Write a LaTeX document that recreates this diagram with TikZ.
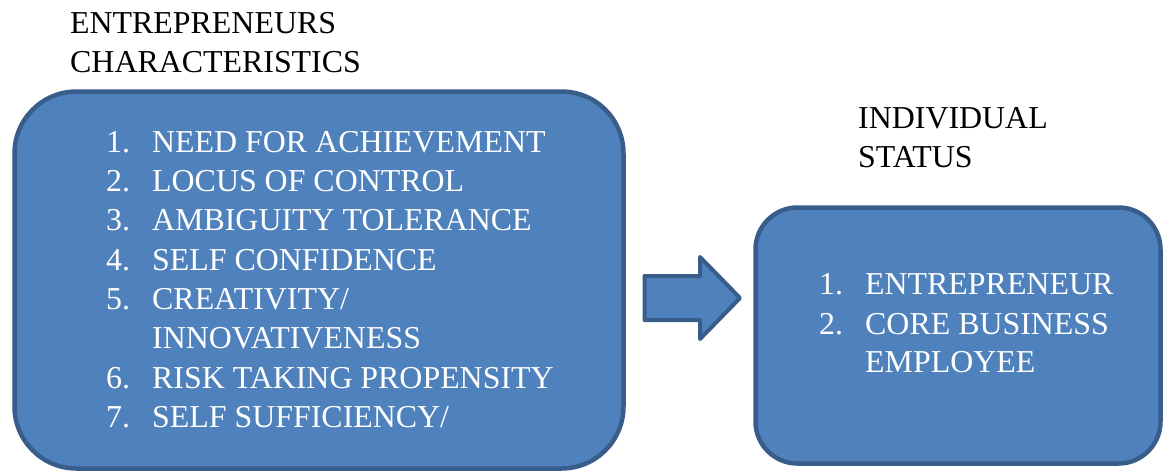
\documentclass[tikz,border=0pt]{standalone}
\usepackage{fontspec}
\setmainfont{Liberation Serif}
\definecolor{boxfill}{HTML}{4F81BD}
\definecolor{boxline}{HTML}{385D8A}
\begin{document}
\begin{tikzpicture}[x=1pt,y=-1pt,
  panel/.style={fill=boxfill,draw=boxline,line width=4.5pt},
  title/.style={anchor=base west,inner sep=0pt,font=\fontsize{31.9}{39}\selectfont,text=black},
  item/.style={anchor=base west,inner sep=0pt,font=\fontsize{31.9}{39}\selectfont,text=white}]
\useasboundingbox (0,0) rectangle (1163,472);
% boxes
\draw[panel,rounded corners=62pt] (14.5,91.5) rectangle (623.5,468.5);
\draw[panel,rounded corners=42pt] (755.5,207.5) rectangle (1160.5,463.5);
% arrow
\draw[panel,line width=4pt,line join=round] (644.5,276) -- (700,276) -- (700,257) -- (740,298) -- (700,339) -- (700,320) -- (644.5,320) -- cycle;
% titles
\node[title] (t1) at (70,33) {ENTREPRENEURS};
\node[title] (t2) at (70,72) {CHARACTERISTICS};
\node[title] (t3) at (858,128) {INDIVIDUAL};
\node[title] (t4) at (858,167) {STATUS};
% left list
\foreach \n/\y/\txt in {1/152/{NEED FOR ACHIEVEMENT},2/191/{LOCUS OF CONTROL},3/230/{AMBIGUITY TOLERANCE},4/270/{SELF CONFIDENCE},5/309/{CREATIVITY/},6/388/{RISK TAKING PROPENSITY},7/427/{SELF SUFFICIENCY/}}{
  \node[item] (ln\n) at (106,\y) {\n.};
  \node[item] (lt\n) at (152,\y) {\txt};
}
\node[item] (lt5b) at (152,348) {INNOVATIVENESS};
% right list
\node[item] (rn1) at (819,294) {1.};
\node[item] (rt1) at (865,294) {ENTREPRENEUR};
\node[item] (rn2) at (819,334) {2.};
\node[item] (rt2) at (865,334) {CORE BUSINESS};
\node[item] (rt2b) at (865,372) {EMPLOYEE};
\end{tikzpicture}
\end{document}
